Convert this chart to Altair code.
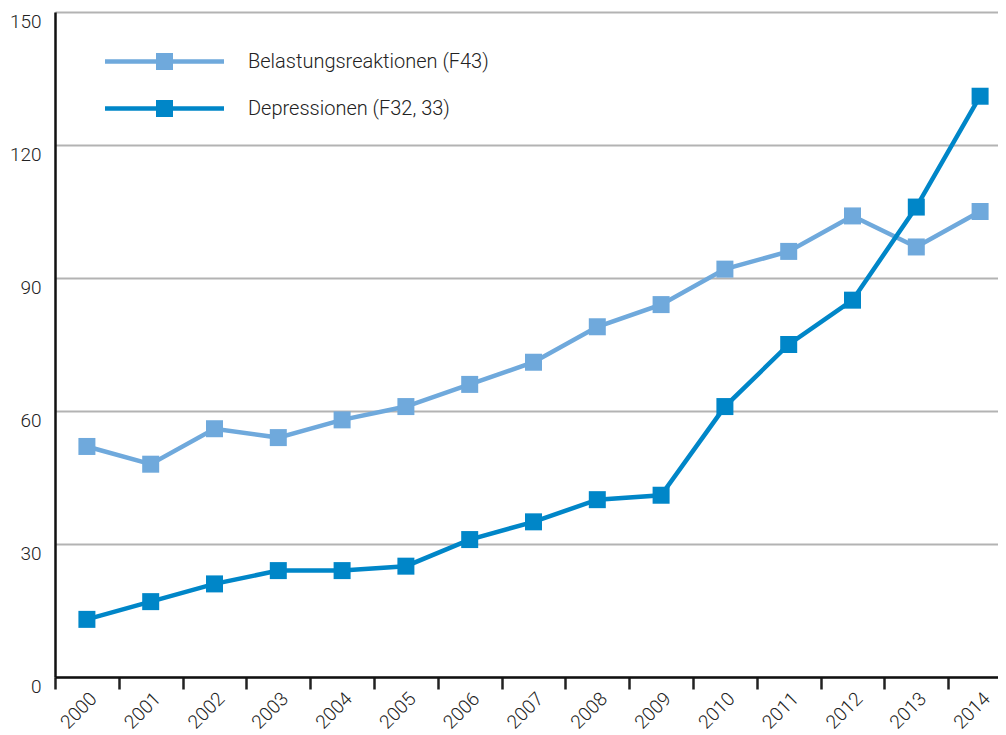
import altair as alt
import pandas as pd

years = [str(y) for y in range(2000, 2015)]
belastung = [52, 48, 56, 54, 58, 61, 66, 71, 79, 84, 92, 96, 104, 97, 105]
depression = [13, 17, 21, 24, 24, 25, 31, 35, 40, 41, 61, 75, 85, 106, 131]
series = ["Belastungsreaktionen (F43)", "Depressionen (F32, 33)"]
colors = ["#6fa9dc", "#0086c8"]
y_ticks = [0, 30, 60, 90, 120, 150]

rows = []
for name, vals in zip(series, [belastung, depression]):
    for yr, v in zip(years, vals):
        rows.append({"Jahr": yr, "Wert": v, "Reihe": name})
df = pd.DataFrame(rows)

FONT = "Roboto"
legend_path = "M-7,-0.26H7V0.26H-7Z M-1,-1H1V1H-1Z"

x_enc = alt.X(
    "Jahr:O",
    sort=years,
    scale=alt.Scale(type="band", range=[0, 957], paddingInner=0, paddingOuter=0),
    axis=alt.Axis(
        title=None, tickBand="extent", labelAngle=315, labelAlign="right",
        labelBaseline="top", labelPadding=0, labelFontSize=19, labelFont=FONT,
        labelFontWeight=300, labelColor="#222222", domainColor="#111111",
        domainWidth=2.5, tickColor="#222222", tickWidth=2.5, tickSize=12,
        grid=False, labelOverlap=False,
    ),
)
y_enc = alt.Y(
    "Wert:Q",
    scale=alt.Scale(domain=[0, 150], nice=False),
    axis=alt.Axis(
        title=None, values=y_ticks, grid=True, gridColor="#b3b3b3", gridWidth=2,
        domainColor="#111111", domainWidth=2.5, ticks=False, labelPadding=14,
        labelBaseline="top", labelFontSize=19, labelFont=FONT, labelFontWeight=300,
        labelColor="#222222",
    ),
)
color_scale = alt.Scale(domain=series, range=colors)

lines = alt.Chart(df).mark_line(strokeWidth=4.5).encode(
    x=x_enc, y=y_enc,
    color=alt.Color("Reihe:N", sort=series, scale=color_scale, legend=None),
)
points = alt.Chart(df).mark_point(shape="square", size=289, filled=True, opacity=1).encode(
    x=x_enc, y=y_enc,
    color=alt.Color(
        "Reihe:N", sort=series, scale=color_scale,
        legend=alt.Legend(
            title=None, orient="none", legendX=99.5, legendY=39.5, padding=0,
            symbolType=legend_path, symbolSize=289, symbolStrokeWidth=0,
            labelFontSize=20, labelFont=FONT, labelFontWeight=300,
            labelColor="#222222", labelOffset=73.5, rowPadding=27, labelLimit=0,
        ),
    ),
)

chart = (
    alt.layer(lines, points)
    .resolve_legend(color="independent")
    .properties(width=943, height=665, autosize=alt.AutoSizeParams(type="none"),
                padding={"left": 47, "top": 4, "right": 0, "bottom": 58})
    .configure_view(stroke=None)
    .configure(background="white")
)
chart.save("out.html", embed_options={"renderer": "svg", "actions": False})
